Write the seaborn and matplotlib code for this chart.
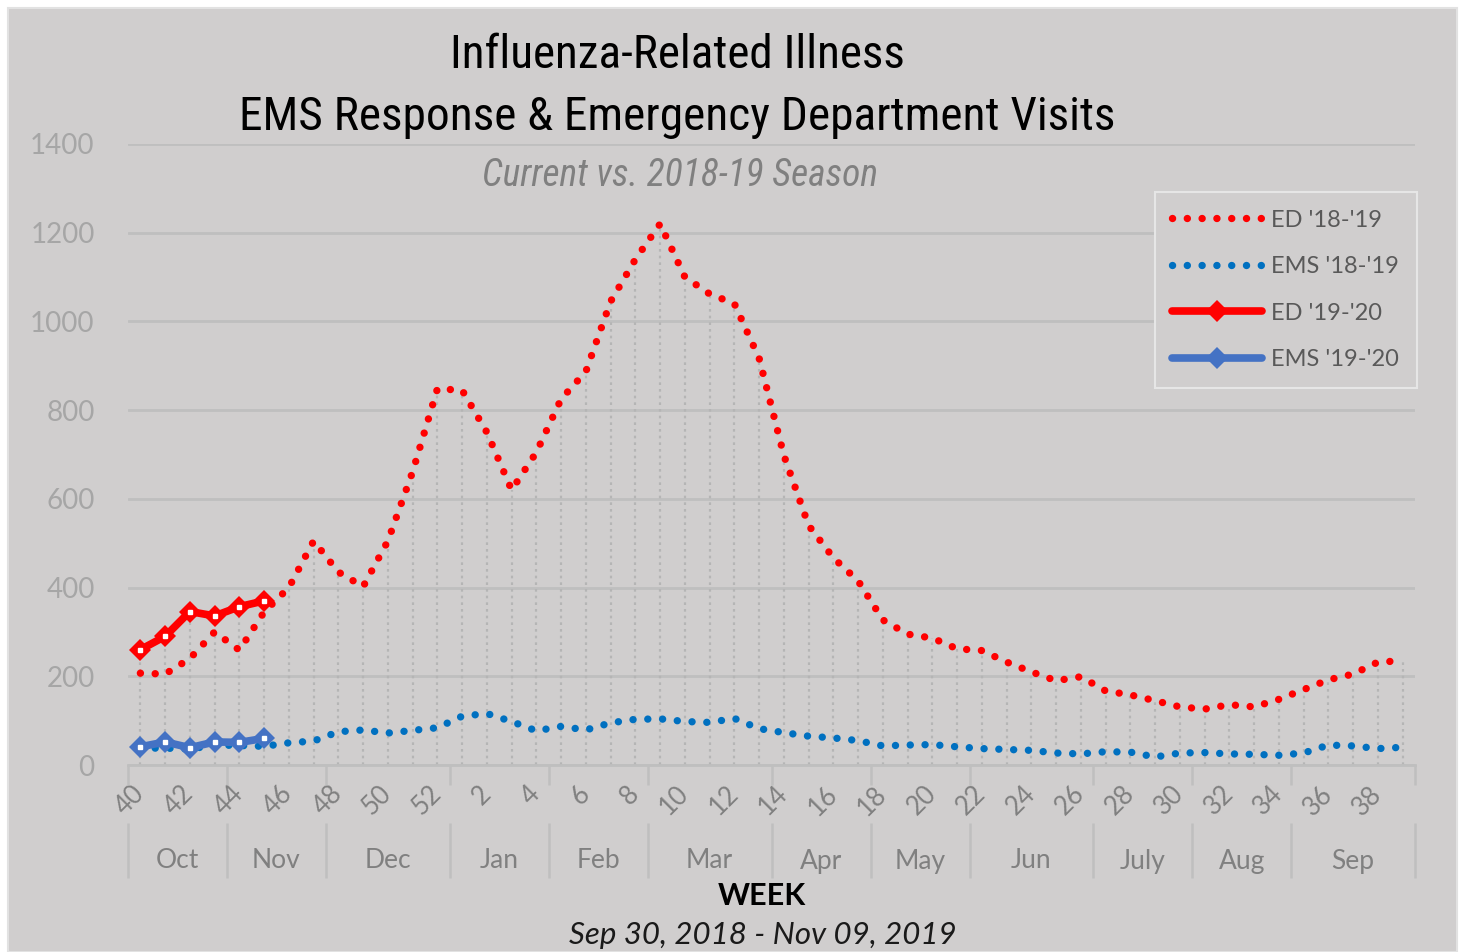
import numpy as np
import pandas as pd
import matplotlib
matplotlib.use("Agg")
import matplotlib.pyplot as plt
import seaborn as sns
from matplotlib import font_manager
from matplotlib.patches import Rectangle

# week numbers, Sep 30 2018 .. Sep 2019
weeks = list(range(40, 53)) + list(range(1, 40))

ed_1819 = [207, 205, 240, 300, 259, 345, 400, 505, 435, 402, 505, 661, 848,
           845, 750, 620, 705, 825, 887, 1045, 1140, 1220, 1100, 1062, 1040, 917,
           698, 540, 467, 415, 327, 295, 286, 262, 258, 232, 210, 190, 199,
           167, 158, 145, 131, 126, 136, 131, 148, 170, 192, 205, 232, 235]
ems_1819 = [38, 38, 36, 45, 44, 42, 50, 54, 75, 79, 72, 78, 84,
            110, 116, 98, 77, 87, 79, 95, 103, 104, 98, 96, 105, 82,
            73, 65, 61, 55, 43, 45, 46, 41, 37, 35, 33, 27, 25,
            30, 29, 18, 27, 28, 25, 24, 22, 27, 45, 43, 37, 40]
ed_1920 = [260, 290, 346, 336, 357, 370]
ems_1920 = [41, 52, 39, 52, 51, 60]

months = ['Oct', 'Nov', 'Dec', 'Jan', 'Feb', 'Mar', 'Apr', 'May', 'Jun',
          'July', 'Aug', 'Sep']
month_weeks = [4, 4, 5, 4, 4, 5, 4, 4, 5, 4, 4, 5]

BG = '#D0CECE'
W, H = 1464, 952

sns.set_theme(style='white')
available = {f.name for f in font_manager.fontManager.ttflist}
base_font = 'Lato' if 'Lato' in available else 'DejaVu Sans'
plt.rcParams['font.family'] = [base_font, 'DejaVu Sans']

cond_font = None
for cand in ['Roboto Condensed', 'Liberation Sans Narrow', 'Open Sans Condensed',
             'DejaVu Sans Condensed']:
    if cand in available:
        cond_font = cand
        break
cond_stretch = 'normal'
if cond_font is None:
    if any(f.name == 'DejaVu Sans' and f.stretch == 'condensed'
           for f in font_manager.fontManager.ttflist):
        cond_font, cond_stretch = 'DejaVu Sans', 'condensed'
    else:
        cond_font = base_font

fig = plt.figure(figsize=(W / 100, H / 100), dpi=100)
fig.patch.set_facecolor('white')
fig.patches.append(Rectangle((8 / W, 0), (1457 - 8) / W, (H - 8) / H,
                             transform=fig.transFigure, facecolor=BG,
                             edgecolor='#E2E2E2', lw=1.5, zorder=-10))

ax = fig.add_axes([128 / W, (H - 765) / H, 1287 / W, 621 / H])
ax.patch.set_alpha(0)

pos = np.arange(len(weeks))
df = pd.DataFrame({'pos': pos, 'week': weeks,
                   'ed_1819': ed_1819, 'ems_1819': ems_1819})
cur = pd.DataFrame({'pos': pos[:len(ed_1920)], 'ed': ed_1920, 'ems': ems_1920})

# drop lines from highest series to the axis
top = np.array(ed_1819, dtype=float)
top[:len(ed_1920)] = np.maximum(top[:len(ed_1920)], ed_1920)
ax.vlines(pos, 0, top, colors='#B5B5B5', linestyles=(0, (1.2, 1.8)), lw=1.6, zorder=1)

dots = (0, (0.01, 2.0))
sns.lineplot(data=df, x='pos', y='ed_1819', ax=ax, color='#FF0000', lw=5.3,
             linestyle=dots, dash_capstyle='round', label="ED '18-'19", zorder=3)
sns.lineplot(data=df, x='pos', y='ems_1819', ax=ax, color='#0070C0', lw=5.3,
             linestyle=dots, dash_capstyle='round', label="EMS '18-'19", zorder=3)
sns.lineplot(data=cur, x='pos', y='ed', ax=ax, color='#FF0000', lw=5.5,
             marker='D', markersize=11, markeredgewidth=0,
             label="ED '19-'20", zorder=4)
sns.lineplot(data=cur, x='pos', y='ems', ax=ax, color='#4472C4', lw=5.5,
             marker='D', markersize=11, markeredgewidth=0,
             label="EMS '19-'20", zorder=4)
for col in ['ed', 'ems']:
    ax.plot(cur['pos'], cur[col], ls='none', marker='s', ms=2.5,
            color='white', zorder=5)

ax.set_xlim(-0.5, len(weeks) - 0.5)
ax.set_ylim(0, 1400)
ax.set_yticks(range(0, 1401, 200))
ax.yaxis.grid(True, color='#BFBFBF', lw=2)
ax.set_axisbelow(True)
for s in ['top', 'right', 'left']:
    ax.spines[s].set_visible(False)
ax.spines['bottom'].set_color('#BFBFBF')
ax.spines['bottom'].set_linewidth(2)
ax.set_xlabel('')
ax.set_ylabel('')

ax.tick_params(axis='y', length=0, pad=24, labelsize=20, labelcolor='#A6A6A6')
ax.set_xticks(pos[::2])
ax.set_xticklabels([str(w) for w in weeks[::2]], rotation=45, ha='right',
                   va='center', rotation_mode='anchor')
ax.tick_params(axis='x', length=0, pad=18, labelsize=18.5, labelcolor='#808080')

# month grouping below the week labels
bounds = np.concatenate([[0], np.cumsum(month_weeks)]) - 0.5
xt = ax.get_xaxis_transform()
ax.vlines(bounds, -20 / 621, 0, transform=xt, colors='#BFBFBF', lw=1.8, clip_on=False)
ax.vlines(bounds, -113 / 621, -58 / 621, transform=xt, colors='#BFBFBF', lw=1.8,
          clip_on=False)
for m, a, b in zip(months, bounds[:-1], bounds[1:]):
    ax.text((a + b) / 2, -96 / 621, m, transform=xt, ha='center', va='center',
            fontsize=19, color='#808080')

fig.text(762 / W, 1 - 896 / H, 'WEEK', ha='center', va='center',
         fontsize=22, fontweight='bold', color='black')
fig.text(763 / W, 1 - 935 / H, 'Sep 30, 2018 - Nov 09, 2019', ha='center',
         va='center', fontsize=22.5, fontstyle='italic', color='#1A1A1A')

t1 = fig.text(677 / W, 1 - 55 / H, 'Influenza-Related Illness', ha='center',
              va='center', fontsize=40, family=cond_font, stretch=cond_stretch,
              color='black')
t2 = fig.text(677 / W, 1 - 117 / H, 'EMS Response & Emergency Department Visits',
              ha='center', va='center', fontsize=40, family=cond_font,
              stretch=cond_stretch, color='black')
t3 = fig.text(680 / W, 1 - 175 / H, 'Current vs. 2018-19 Season', ha='center',
              va='center', fontsize=28, family=cond_font, stretch=cond_stretch,
              fontstyle='italic', color='#808080')
renderer = fig.canvas.get_renderer()
for t, target in [(t1, 455), (t2, 877), (t3, 396)]:
    w = t.get_window_extent(renderer).width
    t.set_fontsize(t.get_fontsize() * target / w)

handles, labels = ax.get_legend_handles_labels()
leg = ax.legend(handles, labels, loc='upper right',
                bbox_to_anchor=(1417 / W, 1 - 192 / H),
                bbox_transform=fig.transFigure, borderaxespad=0, fontsize=17,
                handlelength=3.8, handletextpad=0.4, labelspacing=1.08,
                borderpad=0.75, frameon=True, fancybox=False, framealpha=1,
                facecolor=BG, edgecolor='#E6E6E6')
leg.get_frame().set_linewidth(1.5)
for txt in leg.get_texts():
    txt.set_color('#595959')

fig.savefig('out.png', dpi=100, facecolor=fig.get_facecolor())
